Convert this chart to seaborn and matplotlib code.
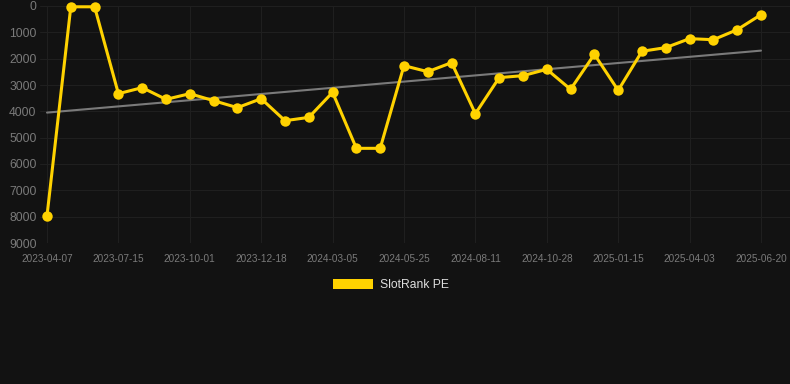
import matplotlib as mpl
mpl.use('agg')
import matplotlib.pyplot as plt
from matplotlib.patches import Patch
import numpy as np
import pandas as pd
import seaborn as sns

# data (rank, lower is better -> inverted axis)
ranks = [7970, 30, 30, 3330, 3100, 3545, 3330, 3595, 3860, 3520,
         4355, 4230, 3280, 5405, 5405, 2265, 2495, 2150, 4090, 2720,
         2645, 2405, 3165, 1835, 3205, 1720, 1580, 1240, 1280, 900, 330]
tick_labels = ['2023-04-07', '2023-07-15', '2023-10-01', '2023-12-18', '2024-03-05',
               '2024-05-25', '2024-08-11', '2024-10-28', '2025-01-15', '2025-04-03',
               '2025-06-20']
y_ticks = [0, 1000, 2000, 3000, 4000, 5000, 6000, 7000, 8000, 9000]

df = pd.DataFrame({'idx': np.arange(len(ranks)), 'rank': ranks})

# linear trend
slope, icpt = np.polyfit(df['idx'], df['rank'], 1)
df['trend'] = slope * df['idx'] + icpt

bg = '#121212'
gold = '#FFD200'
sns.set_style('dark')
plt.rcParams['font.family'] = ['Liberation Sans', 'DejaVu Sans']

fig = plt.figure(figsize=(7.9, 3.84), dpi=100, facecolor=bg)
ax = fig.add_axes([40 / 790, 1 - 243 / 384, 750 / 790, 237 / 384])
ax.set_facecolor(bg)

sns.lineplot(data=df, x='idx', y='trend', ax=ax, color='#7a7a7a', linewidth=1.5, zorder=2)
sns.lineplot(data=df, x='idx', y='rank', ax=ax, color=gold, linewidth=2.2,
             marker='o', markersize=7.5, markeredgewidth=0, zorder=3, clip_on=False)

ax.set_xlim(-0.294, 31.22)
ax.set_ylim(9000, 0)
ax.set_xticks(np.arange(0, len(ranks), 3))
ax.set_xticklabels(tick_labels)
ax.set_yticks(y_ticks)
ax.set_yticklabels([str(v) for v in y_ticks])
ax.tick_params(axis='x', length=0, pad=8, labelsize=7.2, labelcolor='#7a7a7a')
ax.tick_params(axis='y', length=0, pad=2.5, labelsize=8.7, labelcolor='#7a7a7a')
ax.grid(True, color='#1f1f1f', linewidth=0.8)
for s in ax.spines.values():
    s.set_visible(False)
ax.set_xlabel('')
ax.set_ylabel('')

handle = Patch(facecolor=gold, edgecolor='none', label='SlotRank PE')
leg = fig.legend(handles=[handle], loc='center', bbox_to_anchor=(0.495, 1 - 285 / 384),
                 frameon=False, fontsize=8.7, handlelength=3.3, handleheight=0.85,
                 handletextpad=0.55, labelcolor='#dddddd')

plt.savefig('out.png', dpi=100, facecolor=bg)
